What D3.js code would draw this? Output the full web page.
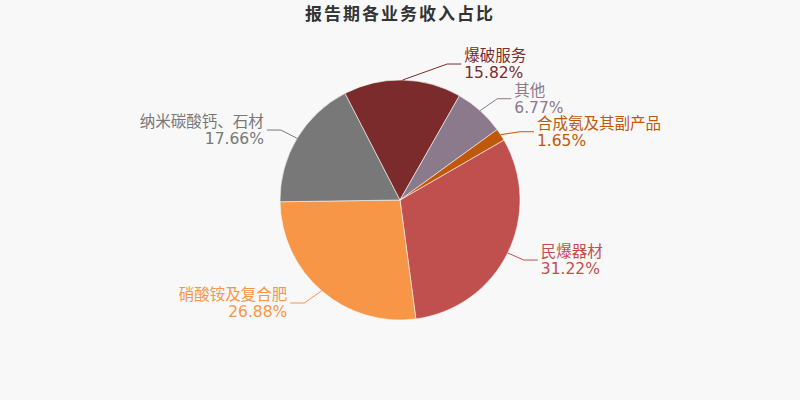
<!DOCTYPE html>
<html>
<head>
<meta charset="utf-8">
<script src="https://cdn.jsdelivr.net/npm/d3@7"></script>
<style>
  html, body { margin: 0; padding: 0; background: #f8f8f8; }
  svg { display: block; font-family: 'DejaVu Sans', 'Noto Sans CJK SC', sans-serif; }
</style>
</head>
<body>
<div id="chart"></div>
<script>
const title = '报告期各业务收入占比'
const categories = ['民爆器材', '硝酸铵及复合肥', '纳米碳酸钙、石材', '爆破服务', '其他', '合成氨及其副产品']
const values = [31.22, 26.88, 17.66, 15.82, 6.77, 1.65]
const colors = ['#c0504d', '#f79646', '#787878', '#7b2b2b', '#8b7a8b', '#c0580b']

const width = 800
const height = 400
const cx = 400
const cy = 200
const radius = 120

const svg = d3.select('#chart')
  .append('svg')
  .attr('width', width)
  .attr('height', height)

svg.append('rect')
  .attr('width', width)
  .attr('height', height)
  .attr('fill', '#f8f8f8')

svg.append('text')
  .attr('x', width / 2)
  .attr('y', 20)
  .attr('text-anchor', 'middle')
  .style('font-family', "'Noto Sans CJK SC', sans-serif")
  .style('font-size', '17px')
  .style('font-weight', 'bold')
  .style('letter-spacing', '2px')
  .attr('fill', '#333')
  .text(title)

const data = categories.map((c, i) => ({ name: c, value: values[i], color: colors[i] }))

// 从 60° 开始顺时针排布
const pie = d3.pie()
  .sort(null)
  .value(d => d.value)
  .startAngle(Math.PI / 3)
  .endAngle(Math.PI / 3 + 2 * Math.PI)

const arc = d3.arc().innerRadius(0).outerRadius(radius)
const arcs = pie(data)

const g = svg.append('g').attr('transform', `translate(${cx},${cy})`)

g.selectAll('path')
  .data(arcs)
  .enter()
  .append('path')
  .attr('d', arc)
  .attr('fill', d => d.data.color)
  .attr('stroke', '#f8f8f8')
  .attr('stroke-width', 0.6)

// 标签布局：自然位置在半径 r+16 的圆上，同侧重叠时往下推
const len1 = 16
const len2 = 14
const rA = radius + len1
const rB = radius + 25
const minGap = 33

const labels = arcs.map(d => {
  const mid = (d.startAngle + d.endAngle) / 2
  const sx = Math.sin(mid) * radius
  const sy = -Math.cos(mid) * radius
  const ey = -Math.cos(mid) * rA
  return { d, mid, sx, sy, y: ey, right: Math.sin(mid) >= 0 }
})

;[true, false].forEach(side => {
  const list = labels.filter(l => l.right === side).sort((a, b) => a.y - b.y)
  for (let i = 1; i < list.length; i++) {
    if (list[i].y - list[i - 1].y < minGap) list[i].y = list[i - 1].y + minGap
  }
})

labels.forEach(l => {
  const dx = rA * Math.sqrt(Math.max(0, 1 - (l.y * l.y) / (rB * rB)))
  l.x = l.right ? dx : -dx
  l.x2 = l.right ? l.x + len2 : l.x - len2
})

const lab = g.selectAll('g.label')
  .data(labels)
  .enter()
  .append('g')
  .attr('class', 'label')

lab.append('polyline')
  .attr('points', l => [[l.sx, l.sy], [l.x, l.y], [l.x2, l.y]].map(p => p.join(',')).join(' '))
  .attr('fill', 'none')
  .attr('stroke', l => l.d.data.color)
  .attr('stroke-width', 1)

lab.append('text')
  .attr('x', l => l.right ? l.x2 + 3 : l.x2 - 3)
  .attr('y', l => l.y - 3)
  .attr('text-anchor', l => l.right ? 'start' : 'end')
  .attr('fill', l => l.d.data.color)
  .style('font-size', '15.5px')
  .text(l => l.d.data.name)

lab.append('text')
  .attr('x', l => l.right ? l.x2 + 3 : l.x2 - 3)
  .attr('y', l => l.y + 14)
  .attr('text-anchor', l => l.right ? 'start' : 'end')
  .attr('fill', l => l.d.data.color)
  .style('font-size', '15.5px')
  .text(l => l.d.data.value.toFixed(2) + '%')
</script>
</body>
</html>
